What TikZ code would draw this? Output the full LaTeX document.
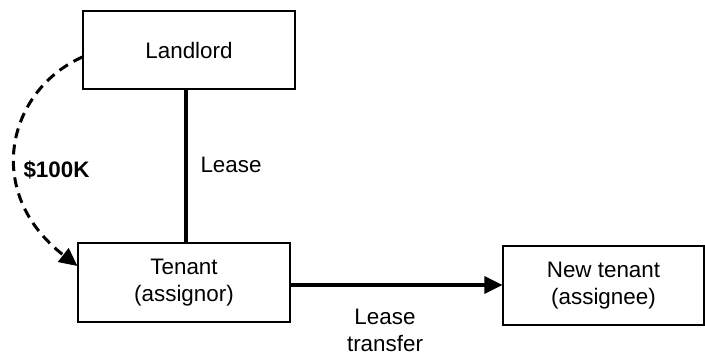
\documentclass[tikz,border=0pt]{standalone}
\usepackage{fontspec}
\setmainfont{Liberation Sans}
\usetikzlibrary{arrows.meta}
\tikzset{
  box/.style={draw=black, line width=1.1pt, rectangle, align=center, inner sep=0pt},
  heavy/.style={line width=3.3pt},
  dashconn/.style={line width=3pt, dash pattern=on 10pt off 6.5pt},
  tip/.style={-{Triangle[length=18pt,width=17pt]}},
}
\begin{document}
\begin{tikzpicture}[x=1pt,y=-1pt, font=\fontsize{22.4}{27}\selectfont]
\useasboundingbox (0,0) rectangle (705,356);
\node[box, minimum width=212pt, minimum height=78pt] (landlord) at (189,50) {Landlord};
\node[box, minimum width=212pt, minimum height=79pt] (tenant) at (184,282.5) {Tenant\\(assignor)};
\node[box, minimum width=201pt, minimum height=79pt] (newtenant) at (603.5,285.5) {New tenant\\(assignee)};
\coordinate (lx) at (186,0);
\coordinate (ay) at (0,285);
\draw[heavy] (landlord.south -| lx) -- (tenant.north -| lx);
\node[anchor=west] (leaselbl) at (197,165) {Lease};
\draw[heavy, tip] (tenant.east |- ay) -- (newtenant.west |- ay);
\node[anchor=north, align=center] (transferlbl) at (385,306) {Lease\\transfer};
\coordinate (ls) at (83,57);
\coordinate (te) at (77,266);
\draw[dashconn, tip] (landlord.west |- ls) .. controls (8,90) and (-18,192) .. (tenant.west |- te);
\node[anchor=west, font=\fontsize{22.4}{27}\selectfont\bfseries] (money) at (20,170) {\$100K};
\end{tikzpicture}
\end{document}
